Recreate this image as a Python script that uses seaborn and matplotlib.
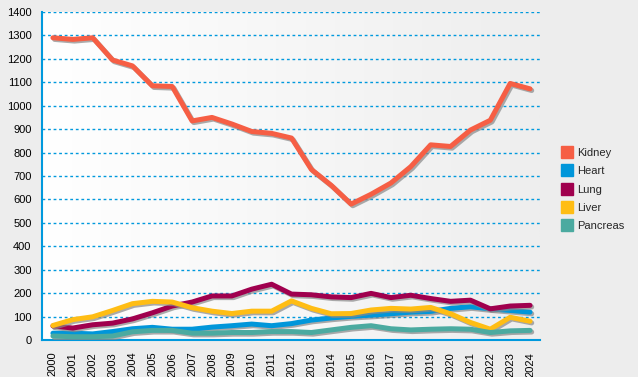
import matplotlib
matplotlib.use("Agg")
import matplotlib.pyplot as plt
import matplotlib.patheffects as pe
from matplotlib.colors import LinearSegmentedColormap
from matplotlib.lines import Line2D
import numpy as np
import pandas as pd
import seaborn as sns

years = list(range(2000, 2025))
kidney = [1290, 1283, 1290, 1195, 1170, 1085, 1082, 935, 950, 922, 890, 882, 862, 728,
          660, 580, 622, 670, 740, 833, 826, 896, 938, 1095, 1072]
heart = [29, 29, 26, 36, 48, 54, 46, 46, 55, 61, 68, 61, 70, 85,
         94, 101, 106, 112, 119, 122, 135, 142, 133, 126, 119]
lung = [60, 51, 65, 72, 90, 116, 145, 162, 188, 188, 217, 238, 196, 193,
        184, 181, 199, 181, 191, 177, 165, 170, 133, 145, 148]
liver = [62, 87, 99, 126, 155, 165, 162, 138, 123, 113, 123, 123, 167, 135,
         112, 113, 128, 135, 132, 139, 112, 75, 46, 97, 80]
pancreas = [17, 14, 14, 17, 35, 41, 41, 29, 29, 32, 32, 36, 36, 32,
            43, 54, 61, 48, 43, 46, 48, 46, 32, 39, 41]

organs = ["Kidney", "Heart", "Lung", "Liver", "Pancreas"]
colors = ["#F65E44", "#0096DA", "#A0004E", "#FFBD14", "#4BAAA0"]

df = pd.DataFrame({"year": years, "Kidney": kidney, "Heart": heart,
                   "Lung": lung, "Liver": liver, "Pancreas": pancreas})
long = df.melt(id_vars="year", var_name="organ", value_name="count")

sns.set_style("white")
plt.rcParams["font.family"] = ["Liberation Sans", "DejaVu Sans"]

fig = plt.figure(figsize=(6.38, 3.77), dpi=100, facecolor="#EDEDED")
ax = fig.add_axes([42 / 638, 1 - 340 / 377, 498 / 638, 328 / 377])
ax.set_facecolor("#F8F8F8")

# background gradient of the plot area
grad = LinearSegmentedColormap.from_list("bg", ["#FFFFFF", "#EEEEEE"])
ax.imshow(np.linspace(0, 1, 256).reshape(1, -1), cmap=grad, aspect="auto",
          extent=[0, 1, 0, 1], transform=ax.transAxes, zorder=0)

blue = "#0099DD"
for v in range(100, 1500, 100):
    ax.axhline(v, color=blue, lw=1, ls=(0, (2, 2)), zorder=1)

sns.lineplot(data=long, x="year", y="count", hue="organ", hue_order=organs,
             palette=colors, linewidth=3.6, legend=False, ax=ax, zorder=3)
for line in ax.lines[-5:]:
    line.set_solid_capstyle("round")
    line.set_solid_joinstyle("round")
    line.set_path_effects([pe.SimpleLineShadow(offset=(1.2, -1.2), shadow_color="#888888", alpha=0.7),
                           pe.Normal()])

ax.set_xlim(1999.45, 2024.5)
ax.set_ylim(0, 1400)
ax.set_yticks(range(0, 1500, 100))
ax.set_xticks(years)
ax.set_xticklabels([str(y) for y in years], rotation=90)
ax.tick_params(axis="both", colors=blue, labelcolor="black", labelsize=8,
               length=4.5, width=1, direction="out")
ax.tick_params(axis="x", pad=4)
ax.tick_params(axis="y", pad=3)
ax.set_xlabel("")
ax.set_ylabel("")
for s in ["top", "right"]:
    ax.spines[s].set_visible(False)
for s in ["left", "bottom"]:
    ax.spines[s].set_color(blue)
    ax.spines[s].set_linewidth(1.5)

handles = [Line2D([], [], ls="none", marker="s", markersize=8, color=c) for c in colors]
fig.legend(handles, organs, loc="upper left", bbox_to_anchor=(553 / 638, 1 - 138 / 377),
           frameon=False, fontsize=8, handlelength=0.8, handletextpad=0.5,
           labelspacing=0.75)

fig.savefig("out.png", dpi=100, facecolor=fig.get_facecolor())
